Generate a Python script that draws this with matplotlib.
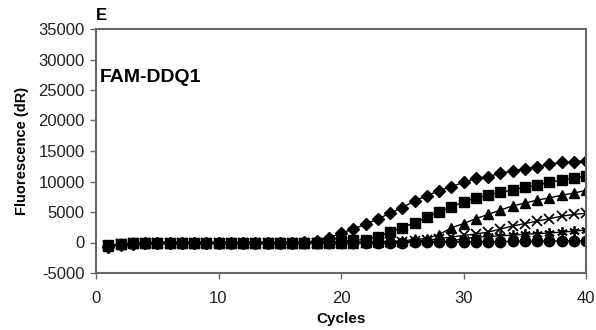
import matplotlib
matplotlib.use("Agg")
import matplotlib.pyplot as plt

cycles = list(range(1, 41))

diamond = [-700, -450, -250, -100, -50, 0, 0, 0, 0, 0, 0, 0, 0, 0, 0, 0, 50, 200, 800, 1500,
           2200, 3000, 3850, 4800, 5700, 6850, 7650, 8500, 9150, 9850,
           10500, 10800, 11350, 11750, 12050, 12400, 12800, 13150, 13250, 13400]
square = [-450, -300, -150, -50, 0, 0, 0, 0, 0, 0, 0, 0, 0, 0, 0, 0, 0, 0, 50, 200,
          400, 450, 950, 1750, 2450, 3250, 4100, 5050, 5750, 6700,
          7250, 7800, 8200, 8600, 9050, 9400, 9850, 10250, 10500, 10950]
triangle = [-500, -300, -150, -50, 0, 0, 0, 0, 0, 0, 0, 0, 0, 0, 0, 0, 0, 0, 0, 0,
            0, 50, 100, 200, 250, 500, 650, 1300, 2400, 3100,
            3900, 4600, 5300, 6000, 6450, 6950, 7300, 7750, 8100, 8550]
cross = [-500, -300, -150, -50, 0, 0, 0, 0, 0, 0, 0, 0, 0, 0, 0, 0, 0, 0, 0, 0,
         0, 0, 50, 50, 100, 200, 350, 600, 900, 1150,
         1400, 1700, 2200, 2700, 3100, 3500, 3900, 4300, 4600, 4800]
asterisk = [-500, -300, -150, -50, 0, 0, 0, 0, 0, 0, 0, 0, 0, 0, 0, 0, 0, 0, 0, 0,
            0, 0, 0, 0, 0, 50, 100, 150, 250, 600,
            850, 1000, 1100, 1200, 1350, 1450, 1550, 1700, 1850, 2050]
circle = [-500, -300, -150, -50, 0, 0, 0, 0, 0, 0, 0, 0, 0, 0, 0, 0, 0, 0, 0, 0,
          0, 0, 0, 0, 0, 50, 50, 100, 100, 100,
          150, 150, 150, 200, 200, 200, 250, 250, 300, 300]

xticks = [0, 10, 20, 30, 40]
yticks = [-5000, 0, 5000, 10000, 15000, 20000, 25000, 30000, 35000]

plt.rcParams['font.family'] = ['Liberation Sans', 'DejaVu Sans']

fig = plt.figure(figsize=(5.96, 3.30), dpi=100)
ax = fig.add_axes([96/596, 57/330, 490/596, 244/330])

series = [
    (diamond, dict(marker='D', markersize=6)),
    (square, dict(marker='s', markersize=7)),
    (triangle, dict(marker='^', markersize=7.5)),
    (cross, dict(marker='x', markersize=7.5, markeredgewidth=1.3)),
    (asterisk, dict(marker=(6, 2, 0), markersize=7.5, markeredgewidth=1.3)),
    (circle, dict(marker='o', markersize=7.5)),
]
for vals, st in reversed(series):
    ax.plot(cycles, vals, color='black', linewidth=1.0,
            markerfacecolor='black', markeredgecolor='black', **st)

ax.set_xlim(0, 40)
ax.set_ylim(-5000, 35000)
ax.set_xticks(xticks)
ax.set_yticks(yticks)
ax.set_xticklabels([str(t) for t in xticks])
ax.set_yticklabels([str(t) for t in yticks])
for s in ax.spines.values():
    s.set_color('#666666')
    s.set_linewidth(1.5)
ax.tick_params(axis='both', direction='out', length=4, width=1, color='#666666',
               labelsize=12, labelcolor='#222222', pad=4)
ax.tick_params(axis='x', pad=9)

ax.set_xlabel('Cycles', fontsize=11, fontweight='bold', labelpad=4.5)
ax.set_ylabel('Fluorescence (dR)', fontsize=10.5, fontweight='bold', labelpad=7)
ax.text(0.008, 0.80, 'FAM-DDQ1', transform=ax.transAxes, fontsize=14,
        fontweight='bold', va='center', ha='left')
fig.text(96/596, 1 - 16/330, 'E', fontsize=12, fontweight='bold', va='center', ha='left')

fig.savefig('out.png', dpi=100)
